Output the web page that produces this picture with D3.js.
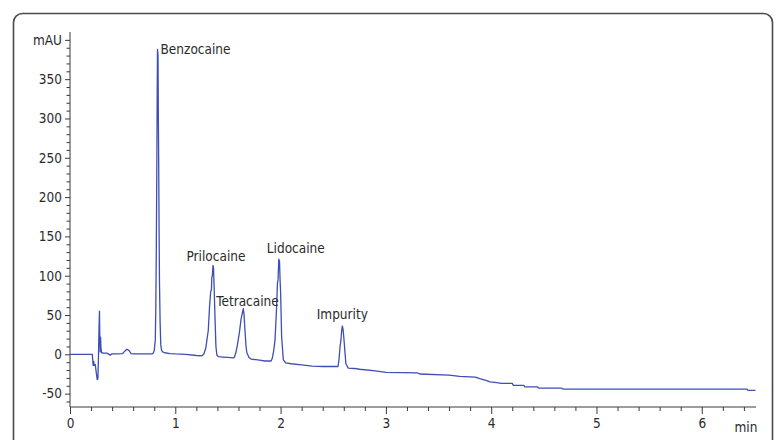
<!DOCTYPE html>
<html>
<head>
<meta charset="utf-8">
<script src="https://cdn.jsdelivr.net/npm/d3@7"></script>
<style>
  html, body { margin: 0; padding: 0; background: #fff; }
  svg { display: block; }
  text { font-family: "DejaVu Sans Condensed", "DejaVu Sans", sans-serif; font-stretch: condensed; fill: #2b2b2b; }
</style>
</head>
<body>
<svg id="chart" width="775" height="440"></svg>
<script>
// Retention time (min) and detector signal (mAU) of the chromatogram trace
const time = [
  0, 0.2, 0.212, 0.215, 0.22, 0.225, 0.23, 0.24, 0.25, 0.258, 0.265, 0.27, 0.275, 0.28, 0.283, 0.287, 0.29, 0.294, 0.3,
  0.32, 0.35, 0.37, 0.38, 0.4, 0.45, 0.5, 0.52, 0.54, 0.56, 0.58, 0.6, 0.7, 0.78,
  0.79, 0.8, 0.81, 0.815, 0.82, 0.825, 0.828, 0.831, 0.836, 0.839, 0.842, 0.846, 0.85, 0.856, 0.862, 0.87, 0.88, 0.9,
  0.95, 1.0, 1.1, 1.2, 1.25,
  1.27, 1.29, 1.3, 1.313, 1.325, 1.336, 1.343, 1.347, 1.352, 1.358, 1.363, 1.37, 1.377, 1.386, 1.395, 1.41,
  1.45, 1.5, 1.55,
  1.56, 1.575, 1.59, 1.608, 1.625, 1.646, 1.652, 1.662, 1.672, 1.68, 1.7, 1.72, 1.8, 1.85, 1.91,
  1.921, 1.935, 1.947, 1.955, 1.962, 1.97, 1.976, 1.983, 1.99, 1.995, 2.0, 2.01, 2.026, 2.05, 2.1, 2.2, 2.3, 2.4, 2.545,
  2.554, 2.565, 2.573, 2.58, 2.586, 2.592, 2.6, 2.605, 2.62, 2.643, 2.7,
  2.75, 2.9, 3.0, 3.3, 3.32, 3.6, 3.7, 3.85, 3.89, 3.95, 3.99, 4.05, 4.1, 4.2, 4.21, 4.31, 4.32, 4.44, 4.45, 4.67, 4.68,
  6.43, 6.44, 6.51
];
const signal = [
  0, 0, 0, -6, -14, -9, -14, -13, -24, -32, -31, -5, 30, 55, 20, 3, 22, 8, 2,
  1.5, 1.5, 0, -1, 0.5, 0.5, 1, 4, 6.5, 5, 1, 0.5, 0.5, 0.5,
  1.5, 5, 18, 60, 140, 250, 330, 388, 380, 300, 250, 160, 90, 40, 12, 5, 3, 2,
  1, 0.5, 0, -1.5, -2,
  0, 8, 18, 30, 60, 80, 82, 98, 100, 113, 110, 80, 47, 10, -1, -3,
  -3.5, -4, -4.5,
  -4, 2, 12, 27, 45, 58, 52, 30, 10, 2, -4, -6, -7.5, -8.5, -8.5,
  -5, 5, 18, 40, 60, 90, 95, 121, 118, 95, 80, 22, -7, -11, -12, -13.5, -15, -15.5, -15.5,
  -7.5, 10, 18, 30, 36, 33, 22, 14, -12, -17.5, -18,
  -19, -21, -23, -23.5, -25, -26.5, -28, -29, -31, -33, -35, -36, -37, -37, -39.5, -39.5, -41.5, -41.5, -43, -43, -44.2,
  -44.2, -45.8, -45.8
];

// Named peaks: apex time and apex signal
const peakNames = ["Benzocaine", "Prilocaine", "Tetracaine", "Lidocaine", "Impurity"];
const peakTimes = [0.831, 1.358, 1.646, 1.983, 2.586];
const peakHeights = [388, 113, 58, 121, 36];

// Axis ticks
const xTicks = [0, 1, 2, 3, 4, 5, 6];
const yTicks = [-50, 0, 50, 100, 150, 200, 250, 300, 350, 400];
const yTickLabels = ["-50", "0", "50", "100", "150", "200", "250", "300", "350", "mAU"];

const svg = d3.select("#chart");
const fontStack = "\"DejaVu Sans Condensed\", \"DejaVu Sans\", sans-serif";
const fontSize = 13.5;

// Frame around the figure
svg.append("rect")
  .attr("x", 13.5).attr("y", 13.5)
  .attr("width", 759).attr("height", 470)
  .attr("rx", 9).attr("ry", 9)
  .attr("fill", "none")
  .attr("stroke", "#4a4a4a")
  .attr("stroke-width", 1.6);

const x = d3.scaleLinear().domain([0, 6.515]).range([70, 756]);
const y = d3.scaleLinear().domain([-67, 410]).range([407, 32]);

// Y axis: major ticks every 50, minor every 10
const gy = svg.append("g").attr("transform", `translate(${x(0)},0)`);
gy.call(d3.axisLeft(y)
    .tickValues(d3.range(-60, 401, 10).filter(v => v % 50 !== 0))
    .tickSize(3.5).tickFormat(""))
  .call(g => g.select(".domain").remove());
gy.append("g").call(d3.axisLeft(y)
    .tickValues(yTicks)
    .tickSize(5)
    .tickPadding(3)
    .tickFormat((d, i) => yTickLabels[i]))
  .call(g => g.select(".domain").remove());
gy.append("line")
  .attr("x1", 0).attr("x2", 0)
  .attr("y1", y.range()[1]).attr("y2", y.range()[0]);

// X axis: major ticks every minute, minor every 0.2 min
const gx = svg.append("g").attr("transform", `translate(0,${y(-67)})`);
gx.call(d3.axisBottom(x)
    .tickValues(d3.range(1, 33).map(i => i * 0.2).filter(v => Math.abs(v - Math.round(v)) > 1e-6))
    .tickSize(4).tickFormat(""))
  .call(g => g.select(".domain").remove());
gx.append("g").call(d3.axisBottom(x)
    .tickValues(xTicks)
    .tickSize(7)
    .tickPadding(4)
    .tickFormat(d3.format("d")))
  .call(g => g.select(".domain").remove());
gx.append("line")
  .attr("x1", x.range()[0]).attr("x2", x.range()[1])
  .attr("y1", 0).attr("y2", 0);
gx.append("text")
  .attr("x", x(6.42)).attr("y", 25)
  .attr("text-anchor", "middle")
  .text("min");

svg.selectAll(".tick line, g > line").attr("stroke", "#3a3a3a").attr("stroke-width", 1);
svg.selectAll(".tick text, g > text")
  .attr("font-size", fontSize)
  .attr("fill", "#2b2b2b")
  .style("font-family", fontStack)
  .style("font-stretch", "condensed");

// Chromatogram trace
const points = time.map((t, i) => [t, signal[i]]);
svg.append("path")
  .datum(points)
  .attr("fill", "none")
  .attr("stroke", "#3d4fb4")
  .attr("stroke-width", 1.3)
  .attr("stroke-linejoin", "round")
  .attr("d", d3.line().x(d => x(d[0])).y(d => y(d[1])));

// Peak labels, placed relative to each apex
const labelLayout = {
  "Benzocaine": { anchor: "start",  dx: 3,   dy: 5 },
  "Prilocaine": { anchor: "middle", dx: 3,   dy: -4 },
  "Tetracaine": { anchor: "start",  dx: -27, dy: -3 },
  "Lidocaine":  { anchor: "middle", dx: 17,  dy: -6 },
  "Impurity":   { anchor: "middle", dx: 0,   dy: -7 }
};
svg.selectAll("text.peak")
  .data(peakNames)
  .join("text")
  .attr("class", "peak")
  .attr("x", (d, i) => x(peakTimes[i]) + labelLayout[d].dx)
  .attr("y", (d, i) => y(peakHeights[i]) + labelLayout[d].dy)
  .attr("text-anchor", d => labelLayout[d].anchor)
  .attr("font-size", fontSize)
  .text(d => d);
</script>
</body>
</html>
